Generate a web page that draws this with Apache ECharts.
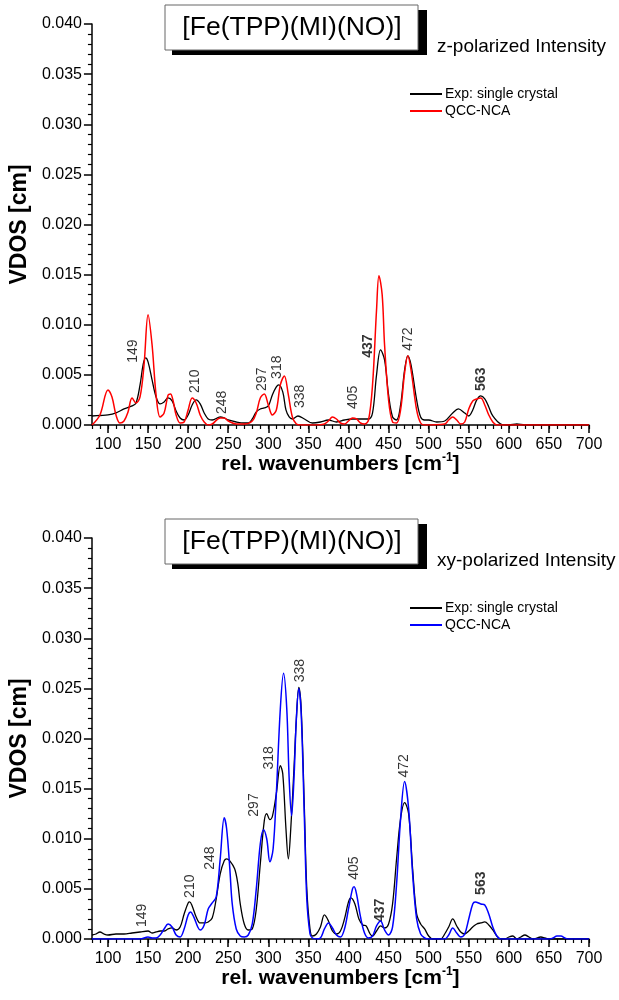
<!DOCTYPE html>
<html>
<head>
<meta charset="utf-8">
<script src="https://cdn.jsdelivr.net/npm/echarts@6/dist/echarts.min.js"></script>
<style>
html,body{margin:0;padding:0;background:#fff;}
#c{width:619px;height:1000px;}
</style>
</head>
<body>
<div id="c"></div>
<script>
// ---------- DATA ----------
const xTicks = [100,150,200,250,300,350,400,450,500,550,600,650,700];

// z-polarized: experiment (black)
const zExp = [[80,0.0009],[90,0.00095],[100,0.001],[110,0.0012],[120,0.0016],[130,0.0019],[135,0.0022],[140,0.004],[144,0.0061],[147,0.0067],[150,0.0063],[155,0.0045],[160,0.0028],[165,0.0021],[170,0.0023],[175,0.0027],[180,0.0024],[185,0.0014],[190,0.0007],[195,0.0005],[200,0.001],[205,0.002],[210,0.0025],[215,0.0021],[220,0.0012],[225,0.0006],[230,0.0005],[240,0.0008],[245,0.0007],[250,0.0005],[260,0.0003],[270,0.0002],[275,0.0002],[280,0.0006],[285,0.0013],[290,0.0016],[295,0.0017],[300,0.0019],[305,0.003],[310,0.0038],[313,0.004],[318,0.0033],[322,0.0015],[326,0.0008],[330,0.0006],[337,0.0009],[345,0.0006],[355,0.0002],[365,0.0003],[375,0.0005],[385,0.0003],[395,0.0005],[405,0.0006],[415,0.0006],[425,0.0006],[430,0.0012],[435,0.005],[440,0.0075],[445,0.0065],[450,0.003],[455,0.0008],[460,0.0005],[465,0.002],[470,0.0055],[474,0.0069],[478,0.006],[485,0.0025],[490,0.0008],[495,0.0005],[500,0.0005],[510,0.0003],[520,0.0004],[530,0.0012],[537,0.0016],[545,0.0012],[550,0.0009],[555,0.0015],[560,0.0025],[565,0.0029],[570,0.0026],[575,0.0018],[580,0.0009],[590,0.0001],[600,0],[610,0.0001],[620,0],[640,0],[700,0]];

// z-polarized: QCC-NCA (red)
const zCalc = [[80,0],[90,0.001],[100,0.0035],[105,0.0028],[110,0.001],[115,0.0002],[120,0.0004],[125,0.0013],[130,0.0027],[135,0.0022],[140,0.0028],[145,0.006],[150,0.011],[155,0.008],[160,0.003],[165,0.0008],[170,0.0012],[175,0.003],[178,0.0031],[181,0.0025],[185,0.001],[190,0.0002],[195,0.0003],[200,0.0015],[205,0.0027],[210,0.0022],[215,0.001],[220,0.0003],[225,0],[230,0.0001],[240,0.0007],[245,0.0007],[250,0.0004],[260,0.0001],[270,0.0001],[280,0.0004],[285,0.0012],[290,0.0027],[295,0.0031],[300,0.002],[305,0.001],[310,0.0015],[315,0.004],[320,0.0049],[325,0.003],[330,0.0008],[335,0.0001],[340,0],[360,0],[370,0.0001],[375,0.0004],[380,0.0008],[385,0.0006],[390,0.0002],[395,0.0001],[400,0.0004],[405,0.0007],[410,0.0006],[415,0.0002],[420,0.0001],[425,0.0005],[430,0.004],[435,0.0115],[438,0.0149],[442,0.013],[445,0.008],[450,0.0025],[455,0.0003],[460,0.0002],[465,0.0015],[470,0.0052],[474,0.0069],[478,0.0055],[485,0.0015],[490,0.0002],[495,0],[520,0.0001],[525,0.0005],[530,0.0008],[535,0.0005],[540,0.0001],[545,0.0003],[550,0.0016],[555,0.0024],[560,0.0026],[565,0.0027],[570,0.002],[575,0.001],[580,0.0003],[585,0],[700,0]];

// xy-polarized: experiment (black)
const xyExp = [[80,0.0004],[85,0.0005],[90,0.0007],[95,0.0005],[100,0.0004],[110,0.0005],[120,0.0005],[130,0.0006],[140,0.0007],[150,0.0008],[155,0.0006],[160,0.0007],[165,0.0008],[170,0.0008],[175,0.001],[180,0.0011],[185,0.0009],[190,0.0012],[195,0.0025],[200,0.0036],[202,0.0037],[205,0.0033],[210,0.0022],[215,0.0016],[220,0.0016],[225,0.0017],[230,0.0021],[235,0.004],[240,0.0065],[245,0.0078],[248,0.008],[252,0.0078],[258,0.007],[262,0.0055],[265,0.0035],[270,0.0015],[275,0.0009],[280,0.001],[285,0.003],[290,0.0075],[295,0.0118],[298,0.0125],[302,0.0119],[305,0.0122],[310,0.0145],[315,0.0173],[318,0.0165],[322,0.011],[325,0.008],[328,0.011],[332,0.017],[335,0.022],[338,0.0251],[341,0.023],[345,0.013],[348,0.005],[352,0.001],[355,0.0003],[360,0.0005],[365,0.0012],[370,0.0024],[375,0.0018],[380,0.0008],[385,0.0005],[390,0.0008],[395,0.002],[400,0.0037],[403,0.0041],[408,0.0035],[413,0.002],[418,0.0014],[422,0.0013],[427,0.0005],[430,0.0003],[435,0.0008],[440,0.0013],[445,0.0011],[450,0.0015],[455,0.0035],[460,0.008],[465,0.012],[470,0.0136],[475,0.0125],[480,0.007],[485,0.0025],[490,0.0015],[495,0.001],[500,0.0003],[505,0],[515,0],[520,0.0005],[525,0.0012],[530,0.002],[535,0.0013],[540,0.0007],[545,0.0005],[550,0.0008],[555,0.0012],[560,0.0015],[565,0.0016],[570,0.0017],[575,0.0014],[580,0.0009],[585,0.0003],[590,0],[595,0],[600,0.0002],[605,0.0003],[610,0],[615,0.0002],[620,0.0004],[625,0.0002],[630,0],[640,0.0002],[645,0.0001],[650,0],[700,0]];

// xy-polarized: QCC-NCA (blue)
const xyCalc = [[80,0],[140,0],[150,0.0002],[155,0.0001],[160,0.0001],[165,0.0004],[170,0.001],[175,0.0015],[180,0.0012],[185,0.0004],[190,0.0002],[195,0.001],[200,0.0024],[203,0.0027],[207,0.0022],[212,0.0012],[215,0.0009],[220,0.0014],[225,0.003],[230,0.0036],[235,0.0042],[240,0.008],[245,0.0121],[248,0.011],[252,0.007],[255,0.0035],[260,0.001],[265,0.0003],[270,0.0002],[275,0.0004],[280,0.0015],[285,0.005],[290,0.0095],[294,0.0109],[298,0.01],[302,0.0077],[306,0.009],[310,0.0145],[315,0.023],[319,0.0265],[323,0.023],[326,0.016],[329,0.0123],[332,0.016],[335,0.022],[338,0.025],[341,0.0225],[345,0.012],[348,0.004],[352,0.0005],[355,0.0001],[360,0],[365,0.0001],[370,0.001],[375,0.0016],[380,0.0011],[385,0.0004],[390,0.0002],[395,0.001],[400,0.003],[405,0.005],[407,0.0052],[410,0.0045],[415,0.0022],[420,0.0006],[425,0.0001],[430,0.0003],[435,0.0013],[440,0.0018],[445,0.0009],[450,0.0004],[455,0.0012],[460,0.0055],[465,0.012],[470,0.0157],[475,0.013],[480,0.0065],[485,0.002],[490,0.0005],[495,0.0001],[500,0],[520,0],[525,0.0004],[530,0.0011],[535,0.0006],[540,0.0002],[545,0.0005],[550,0.002],[555,0.0035],[558,0.0037],[565,0.0035],[570,0.0034],[575,0.0025],[580,0.0012],[585,0.0003],[590,0],[650,0],[655,0.0001],[660,0.0003],[665,0.0003],[670,0.0001],[675,0],[700,0]];

// peak labels: [x, y (bottom of text), text, bold]
const zPeaks = [[131,0.0062,'149',0],[209,0.0032,'210',0],[242,0.0011,'248',0],[292,0.0034,'297',0],[311,0.0046,'318',0],[340,0.0017,'338',0],[406,0.0016,'405',0],[424,0.0067,'437',1],[475,0.0074,'472',0],[566,0.0034,'563',1]];
const xyPeaks = [[142,0.0012,'149',0],[203,0.0041,'210',0],[228,0.0069,'248',0],[282,0.0122,'297',0],[301,0.0169,'318',0],[340,0.0256,'338',0],[407,0.0059,'405',0],[439,0.0017,'437',1],[470,0.0161,'472',0],[566,0.0044,'563',1]];

const compound = '[Fe(TPP)(MI)(NO)]';
const panelNames = ['z-polarized Intensity', 'xy-polarized Intensity'];
const legendExp = 'Exp: single crystal';
const legendCalc = 'QCC-NCA';

// ---------- CHART ----------
const FONT = 'Liberation Sans, Arial, sans-serif';
const chart = echarts.init(document.getElementById('c'), null, {renderer: 'canvas'});

const GRID_LEFT = 90, GRID_W = 499, GRID_H = 401;
const tops = [24, 538];
const offs = [0, 514];
const calcColors = ['#ff0000', '#0000ff'];

const grids = [], xAxes = [], yAxes = [], series = [], legends = [], graphics = [];

tops.forEach((top, i) => {
  grids.push({left: GRID_LEFT, top: top, width: GRID_W, height: GRID_H, containLabel: false});
  // minor x ticks + data axis
  xAxes.push({
    type: 'value', gridIndex: i, min: 80, max: 700, interval: 10,
    axisLine: {show: true, onZero: false, lineStyle: {color: '#000', width: 1.5}},
    axisTick: {show: true, length: 4, lineStyle: {color: '#000', width: 1.2}},
    axisLabel: {show: false}, splitLine: {show: false},
    name: '{a|rel. wavenumbers [cm}{s|-1}{a|]}',
    nameLocation: 'middle', nameGap: 27,
    nameTextStyle: {
      rich: {
        a: {fontFamily: FONT, fontSize: 21, fontWeight: 'bold', color: '#000', lineHeight: 24},
        s: {fontFamily: FONT, fontSize: 12, fontWeight: 'bold', color: '#000', verticalAlign: 'top', lineHeight: 24, padding: [0, 0, 10, 0]}
      }
    }
  });
  // major x ticks + labels
  xAxes.push({
    type: 'value', gridIndex: i, min: 80, max: 700, position: 'bottom',
    axisLine: {show: false},
    axisTick: {show: true, length: 8, customValues: xTicks, lineStyle: {color: '#000', width: 1.5}},
    axisLabel: {show: true, customValues: xTicks, margin: 12, fontFamily: FONT, fontSize: 16, color: '#000'},
    splitLine: {show: false}
  });
  yAxes.push({
    type: 'value', gridIndex: i, min: 0, max: 0.04, interval: 0.005,
    axisLine: {show: true, lineStyle: {color: '#000', width: 1.5}},
    axisTick: {show: true, length: 8, lineStyle: {color: '#000', width: 1.5}},
    minorTick: {show: true, splitNumber: 5, length: 4, lineStyle: {color: '#000', width: 1.2}},
    axisLabel: {fontFamily: FONT, fontSize: 16, color: '#000', margin: 10, formatter: v => v.toFixed(3)},
    splitLine: {show: false},
    name: 'VDOS [cm]', nameLocation: 'middle', nameGap: 60,
    nameTextStyle: {fontFamily: FONT, fontSize: 23, fontWeight: 'bold', color: '#000'}
  });

  const exp = i === 0 ? zExp : xyExp;
  const calc = i === 0 ? zCalc : xyCalc;
  const peaks = i === 0 ? zPeaks : xyPeaks;
  const tag = '|' + i;
  series.push({
    name: legendExp + tag, type: 'line', xAxisIndex: 2 * i, yAxisIndex: i,
    data: exp, smooth: 0.35, symbol: 'none', lineStyle: {color: '#000', width: 1.3}, itemStyle: {color: '#000'}
  });
  series.push({
    name: legendCalc + tag, type: 'line', xAxisIndex: 2 * i, yAxisIndex: i,
    data: calc, smooth: 0.35, symbol: 'none', lineStyle: {color: calcColors[i], width: 1.5}, itemStyle: {color: calcColors[i]}
  });
  series.push({
    type: 'scatter', xAxisIndex: 2 * i, yAxisIndex: i, symbolSize: 1, silent: true,
    itemStyle: {color: 'rgba(0,0,0,0)'},
    data: peaks.map(p => ({
      value: [p[0], p[1]],
      label: {
        show: true, formatter: p[2], rotate: 90, position: 'inside', align: 'left', verticalAlign: 'middle',
        fontFamily: FONT, fontSize: 14, color: '#000', fontWeight: p[3] ? 'bold' : 'normal'
      }
    }))
  });
  legends.push({
    orient: 'vertical', left: 405, top: 82 + offs[i], itemWidth: 32, itemHeight: 2, itemGap: 3,
    icon: 'rect', selectedMode: false,
    data: [legendExp + tag, legendCalc + tag],
    formatter: n => n.split('|')[0],
    textStyle: {fontFamily: FONT, fontSize: 14, color: '#000', padding: [0, 0, 0, -2]}
  });
  // title box with drop shadow
  graphics.push({type: 'rect', shape: {x: 172, y: 10 + offs[i], width: 255, height: 45}, style: {fill: '#000'}});
  graphics.push({type: 'rect', shape: {x: 165, y: 5 + offs[i], width: 253, height: 45}, style: {fill: '#fff', stroke: '#666', lineWidth: 1}});
  graphics.push({type: 'text', x: 292, y: 28 + offs[i], style: {text: compound, fontFamily: FONT, fontSize: 26.5, fill: '#000', align: 'center', verticalAlign: 'middle'}});
  graphics.push({type: 'text', x: 437, y: 47 + offs[i], style: {text: panelNames[i], fontFamily: FONT, fontSize: 19, fill: '#000', align: 'left', verticalAlign: 'middle'}});
});

chart.setOption({
  backgroundColor: '#fff',
  animation: false,
  grid: grids, xAxis: xAxes, yAxis: yAxes, series: series, legend: legends, graphic: graphics
});
</script>
</body>
</html>
